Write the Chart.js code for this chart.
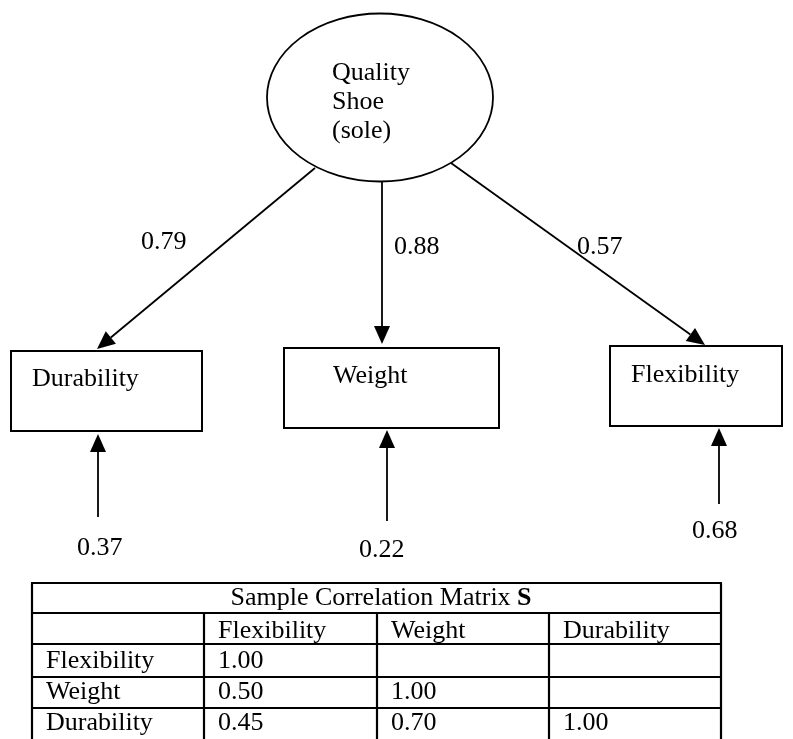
<!DOCTYPE html>
<html>
<head>
<meta charset="utf-8">
<script src="https://cdn.jsdelivr.net/npm/chart.js@4.4.1/dist/chart.umd.min.js"></script>
<style>
  body { margin: 0; background: #fff; }
  canvas { display: block; }
</style>
</head>
<body>
<canvas id="pathChart" width="793" height="739"></canvas>
<script>
// data
const latentLabel = ['Quality', 'Shoe', '(sole)'];
const indicators = ['Durability', 'Weight', 'Flexibility'];
const loadings = [0.79, 0.88, 0.57];
const errorVariances = [0.37, 0.22, 0.68];

const matrixTitle = 'Sample Correlation Matrix ';
const matrixVars = ['Flexibility', 'Weight', 'Durability'];
const corrFlexibility = [1.00];
const corrWeight = [0.50, 1.00];
const corrDurability = [0.45, 0.70, 1.00];

// layout (diagram units = pixels of the 793 x 739 area)
let layout = {
    ellipse: { cx: 380, cy: 97.5, rx: 113, ry: 84, textX: 332, baselines: [80, 109, 138] },
    boxes: [
        { x0: 11, x1: 202, y0: 351, y1: 431, textX: 32, base: 386 },
        { x0: 284, x1: 499, y0: 348, y1: 428, textX: 333, base: 383 },
        { x0: 610, x1: 782, y0: 346, y1: 426, textX: 631, base: 382 }
    ],
    loadArrows: [
        { from: [315, 168], to: [97, 349], label: [141, 249] },
        { from: [382, 182], to: [382, 344], label: [394, 254] },
        { from: [451, 163], to: [705, 345], label: [577, 254] }
    ],
    errArrows: [
        { from: [98, 517], to: [98, 434], label: [77, 555] },
        { from: [387, 521], to: [387, 430], label: [359, 557] },
        { from: [719, 504], to: [719, 428], label: [692, 538] }
    ],
    table: {
        cols: [32, 204, 377, 549, 721],
        rows: [583, 613, 644, 677, 708, 741],
        baselines: [605, 638, 668, 699, 730],
        titleCenter: 381,
        pad: 14
    }
};

const FONT = '26px "Liberation Serif", "Times New Roman", serif';
const BOLD = 'bold 26px "Liberation Serif", "Times New Roman", serif';

function arrow(ctx, x1, y1, x2, y2) {
    let ang = Math.atan2(y2 - y1, x2 - x1);
    let len = 18, half = 8;
    let bx = x2 - len * Math.cos(ang), by = y2 - len * Math.sin(ang);
    ctx.beginPath();
    ctx.moveTo(x1, y1);
    ctx.lineTo(bx, by);
    ctx.stroke();
    ctx.beginPath();
    ctx.moveTo(x2, y2);
    ctx.lineTo(bx + half * Math.sin(ang), by - half * Math.cos(ang));
    ctx.lineTo(bx - half * Math.sin(ang), by + half * Math.cos(ang));
    ctx.closePath();
    ctx.fill();
}

let diagramPlugin = {
    id: 'diagram',
    afterDraw(chart) {
        let ctx = chart.ctx;
        let X = v => chart.scales.x.getPixelForValue(v);
        let Y = v => chart.scales.y.getPixelForValue(v);
        ctx.save();
        ctx.strokeStyle = '#000';
        ctx.fillStyle = '#000';
        ctx.textBaseline = 'alphabetic';
        ctx.textAlign = 'left';
        ctx.font = FONT;

        // latent variable
        let e = layout.ellipse;
        ctx.lineWidth = 1.8;
        ctx.beginPath();
        ctx.ellipse(X(e.cx), Y(e.cy), e.rx, e.ry, 0, 0, Math.PI * 2);
        ctx.stroke();
        latentLabel.forEach((t, i) => ctx.fillText(t, X(e.textX), Y(e.baselines[i])));

        // indicator boxes
        indicators.forEach((name, i) => {
            let b = layout.boxes[i];
            ctx.lineWidth = 2;
            ctx.strokeRect(X(b.x0), Y(b.y0), X(b.x1) - X(b.x0), Y(b.y1) - Y(b.y0));
            ctx.fillText(name, X(b.textX), Y(b.base));
        });

        // loadings
        ctx.lineWidth = 1.8;
        layout.loadArrows.forEach((a, i) => {
            arrow(ctx, X(a.from[0]), Y(a.from[1]), X(a.to[0]), Y(a.to[1]));
            ctx.fillText(loadings[i].toFixed(2), X(a.label[0]), Y(a.label[1]));
        });

        // error variances
        layout.errArrows.forEach((a, i) => {
            arrow(ctx, X(a.from[0]), Y(a.from[1]), X(a.to[0]), Y(a.to[1]));
            ctx.fillText(errorVariances[i].toFixed(2), X(a.label[0]), Y(a.label[1]));
        });

        // correlation table
        let t = layout.table;
        let cols = t.cols, rows = t.rows;
        ctx.lineWidth = 2.2;
        ctx.beginPath();
        rows.forEach(r => { ctx.moveTo(X(cols[0]) - 1, Y(r)); ctx.lineTo(X(cols[4]) + 1, Y(r)); });
        ctx.moveTo(X(cols[0]), Y(rows[0])); ctx.lineTo(X(cols[0]), Y(rows[5]));
        ctx.moveTo(X(cols[4]), Y(rows[0])); ctx.lineTo(X(cols[4]), Y(rows[5]));
        for (let c = 1; c < 4; c++) {
            ctx.moveTo(X(cols[c]), Y(rows[1])); ctx.lineTo(X(cols[c]), Y(rows[5]));
        }
        ctx.stroke();

        ctx.font = FONT;
        let w1 = ctx.measureText(matrixTitle).width;
        ctx.font = BOLD;
        let w2 = ctx.measureText('S').width;
        let tx = X(t.titleCenter) - (w1 + w2) / 2;
        ctx.font = FONT;
        ctx.fillText(matrixTitle, tx, Y(t.baselines[0]));
        ctx.font = BOLD;
        ctx.fillText('S', tx + w1, Y(t.baselines[0]));
        ctx.font = FONT;

        matrixVars.forEach((v, i) => ctx.fillText(v, X(cols[i + 1] + t.pad), Y(t.baselines[1])));
        let corrRows = [corrFlexibility, corrWeight, corrDurability];
        corrRows.forEach((vals, r) => {
            let base = Y(t.baselines[r + 2]);
            ctx.fillText(matrixVars[r], X(cols[0] + t.pad), base);
            vals.forEach((v, c) => ctx.fillText(v.toFixed(2), X(cols[c + 1] + t.pad), base));
        });
        ctx.restore();
    }
};

let ctx = document.getElementById('pathChart');
new Chart(ctx, {
    type: 'scatter',
    data: { datasets: [{ data: [], pointRadius: 0 }] },
    options: {
        responsive: false,
        animation: false,
        devicePixelRatio: 1,
        layout: { padding: 0 },
        plugins: { legend: { display: false }, tooltip: { enabled: false } },
        scales: {
            x: { type: 'linear', min: 0, max: 793, display: false },
            y: { type: 'linear', min: 0, max: 739, reverse: true, display: false }
        }
    },
    plugins: [diagramPlugin]
});
</script>
</body>
</html>
